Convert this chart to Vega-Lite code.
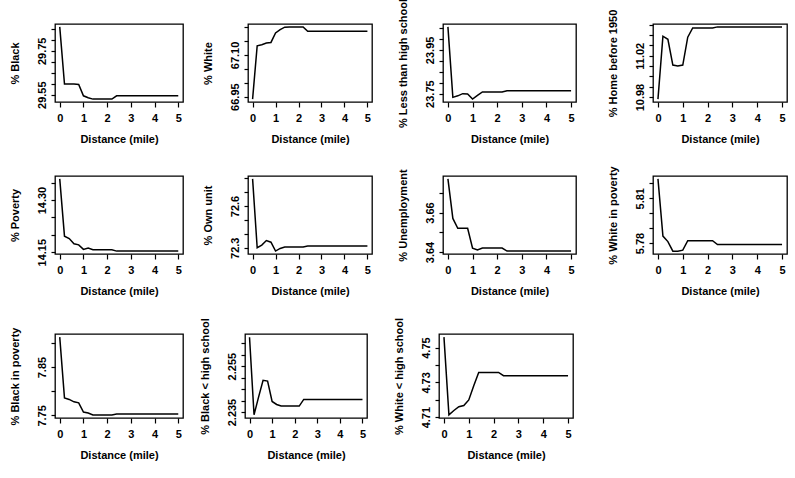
{
"$schema": "https://vega.github.io/schema/vega-lite/v6.json",
"background": "white",
"padding": {"left": 8, "top": -3, "right": 5, "bottom": 5},
"config": {
  "view": {"stroke": "black", "strokeWidth": 1.3},
  "axis": {"domain": false, "grid": false, "tickColor": "black", "tickWidth": 1.2, "labelFont": "Liberation Sans", "labelFontSize": 11, "labelFontWeight": "bold", "labelColor": "black", "titleFont": "Liberation Sans", "titleFontSize": 11, "titleFontWeight": "bold", "titleColor": "black", "labelFlush": false, "labelOverlap": false, "labelBound": false},
  "axisX": {"tickSize": 5, "labelPadding": 5, "titlePadding": 10},
  "axisY": {"tickSize": 4, "labelPadding": 4, "labelAngle": -90, "labelAlign": "center", "labelBaseline": "bottom", "titlePadding": 16}
},
"datasets": {
  "black": [{"distance":0,"value":29.859},{"distance":0.2,"value":29.599},{"distance":0.4,"value":29.599},{"distance":0.6,"value":29.599},{"distance":0.8,"value":29.597},{"distance":1.0,"value":29.545},{"distance":1.2,"value":29.536},{"distance":1.4,"value":29.530},{"distance":1.6,"value":29.530},{"distance":1.8,"value":29.530},{"distance":2.0,"value":29.530},{"distance":2.2,"value":29.530},{"distance":2.4,"value":29.545},{"distance":5,"value":29.545}],
  "white": [{"distance":0,"value":66.941},{"distance":0.2,"value":67.133},{"distance":0.4,"value":67.137},{"distance":0.6,"value":67.143},{"distance":0.8,"value":67.145},{"distance":1.0,"value":67.179},{"distance":1.2,"value":67.191},{"distance":1.4,"value":67.200},{"distance":1.6,"value":67.201},{"distance":1.8,"value":67.201},{"distance":2.0,"value":67.201},{"distance":2.2,"value":67.201},{"distance":2.4,"value":67.185},{"distance":5,"value":67.185}],
  "less": [{"distance":0,"value":24.055},{"distance":0.2,"value":23.733},{"distance":0.4,"value":23.740},{"distance":0.6,"value":23.750},{"distance":0.8,"value":23.748},{"distance":1.0,"value":23.725},{"distance":1.2,"value":23.742},{"distance":1.4,"value":23.758},{"distance":1.6,"value":23.758},{"distance":1.8,"value":23.758},{"distance":2.0,"value":23.758},{"distance":2.2,"value":23.758},{"distance":2.4,"value":23.763},{"distance":5,"value":23.763}],
  "home": [{"distance":0,"value":10.978},{"distance":0.2,"value":11.039},{"distance":0.4,"value":11.036},{"distance":0.6,"value":11.011},{"distance":0.8,"value":11.010},{"distance":1.0,"value":11.011},{"distance":1.2,"value":11.038},{"distance":1.4,"value":11.047},{"distance":1.6,"value":11.047},{"distance":1.8,"value":11.047},{"distance":2.0,"value":11.047},{"distance":2.2,"value":11.047},{"distance":2.4,"value":11.048},{"distance":5,"value":11.048}],
  "poverty": [{"distance":0,"value":14.361},{"distance":0.2,"value":14.196},{"distance":0.4,"value":14.189},{"distance":0.6,"value":14.174},{"distance":0.8,"value":14.171},{"distance":1.0,"value":14.158},{"distance":1.2,"value":14.162},{"distance":1.4,"value":14.157},{"distance":1.6,"value":14.157},{"distance":1.8,"value":14.157},{"distance":2.0,"value":14.157},{"distance":2.2,"value":14.157},{"distance":2.4,"value":14.153},{"distance":5,"value":14.153}],
  "own": [{"distance":0,"value":72.795},{"distance":0.2,"value":72.300},{"distance":0.4,"value":72.319},{"distance":0.6,"value":72.352},{"distance":0.8,"value":72.340},{"distance":1.0,"value":72.276},{"distance":1.2,"value":72.295},{"distance":1.4,"value":72.305},{"distance":1.6,"value":72.305},{"distance":1.8,"value":72.305},{"distance":2.0,"value":72.305},{"distance":2.2,"value":72.305},{"distance":2.4,"value":72.312},{"distance":5,"value":72.312}],
  "unemp": [{"distance":0,"value":3.677},{"distance":0.2,"value":3.657},{"distance":0.4,"value":3.652},{"distance":0.6,"value":3.652},{"distance":0.8,"value":3.652},{"distance":1.0,"value":3.642},{"distance":1.2,"value":3.641},{"distance":1.4,"value":3.642},{"distance":1.6,"value":3.642},{"distance":1.8,"value":3.642},{"distance":2.0,"value":3.642},{"distance":2.2,"value":3.642},{"distance":2.4,"value":3.6405},{"distance":5,"value":3.6405}],
  "wpov": [{"distance":0,"value":5.823},{"distance":0.2,"value":5.7847},{"distance":0.4,"value":5.781},{"distance":0.6,"value":5.7746},{"distance":0.8,"value":5.7746},{"distance":1.0,"value":5.7753},{"distance":1.2,"value":5.7816},{"distance":1.4,"value":5.7816},{"distance":1.6,"value":5.7816},{"distance":1.8,"value":5.7816},{"distance":2.0,"value":5.7816},{"distance":2.2,"value":5.7816},{"distance":2.4,"value":5.779},{"distance":5,"value":5.779}],
  "bpov": [{"distance":0,"value":7.912},{"distance":0.2,"value":7.786},{"distance":0.4,"value":7.783},{"distance":0.6,"value":7.778},{"distance":0.8,"value":7.776},{"distance":1.0,"value":7.757},{"distance":1.2,"value":7.755},{"distance":1.4,"value":7.751},{"distance":1.6,"value":7.751},{"distance":1.8,"value":7.751},{"distance":2.0,"value":7.751},{"distance":2.2,"value":7.751},{"distance":2.4,"value":7.753},{"distance":5,"value":7.753}],
  "bhs": [{"distance":0,"value":2.2676},{"distance":0.2,"value":2.2338},{"distance":0.4,"value":2.2415},{"distance":0.6,"value":2.2488},{"distance":0.8,"value":2.2485},{"distance":1.0,"value":2.2396},{"distance":1.2,"value":2.2383},{"distance":1.4,"value":2.2376},{"distance":1.6,"value":2.2376},{"distance":1.8,"value":2.2376},{"distance":2.0,"value":2.2376},{"distance":2.2,"value":2.2376},{"distance":2.4,"value":2.2405},{"distance":5,"value":2.2405}],
  "whs": [{"distance":0,"value":4.756},{"distance":0.2,"value":4.7113},{"distance":0.4,"value":4.7138},{"distance":0.6,"value":4.716},{"distance":0.8,"value":4.7167},{"distance":1.0,"value":4.7199},{"distance":1.2,"value":4.7281},{"distance":1.4,"value":4.7357},{"distance":1.6,"value":4.7357},{"distance":1.8,"value":4.7357},{"distance":2.0,"value":4.7357},{"distance":2.2,"value":4.7357},{"distance":2.4,"value":4.7338},{"distance":5,"value":4.7338}]
},
"vconcat": [
  {"hconcat": [
    {"width": 128, "height": 78, "data": {"name": "black"}, "mark": {"type": "line", "color": "black", "strokeWidth": 1.5},
     "encoding": {"x": {"field": "distance", "type": "quantitative", "scale": {"domain": [-0.2, 5.2], "nice": false}, "axis": {"title": "Distance (mile)", "values": [0,1,2,3,4,5]}},
       "y": {"field": "value", "type": "quantitative", "scale": {"domain": [29.5168, 29.8722], "nice": false, "zero": false}, "axis": {"title": "% Black", "values": [29.55,29.6,29.65,29.7,29.75,29.8,29.85], "format": ".2f", "labelExpr": "indexof(['29.55','29.75'], datum.label) >= 0 ? datum.label : ''"}}}},
    {"hconcat": [
      {"width": 124, "height": 78, "data": {"name": "white"}, "mark": {"type": "line", "color": "black", "strokeWidth": 1.5},
       "encoding": {"x": {"field": "distance", "type": "quantitative", "scale": {"domain": [-0.2, 5.2], "nice": false}, "axis": {"title": "Distance (mile)", "values": [0,1,2,3,4,5]}},
         "y": {"field": "value", "type": "quantitative", "scale": {"domain": [66.9306, 67.2114], "nice": false, "zero": false}, "axis": {"title": "% White", "values": [66.95,67.0,67.05,67.1,67.15,67.2], "format": ".2f", "labelExpr": "indexof(['66.95','67.10'], datum.label) >= 0 ? datum.label : ''"}}}},
      {"hconcat": [
        {"width": 133, "height": 78, "data": {"name": "less"}, "mark": {"type": "line", "color": "black", "strokeWidth": 1.5},
         "encoding": {"x": {"field": "distance", "type": "quantitative", "scale": {"domain": [-0.2, 5.2], "nice": false}, "axis": {"title": "Distance (mile)", "values": [0,1,2,3,4,5]}},
           "y": {"field": "value", "type": "quantitative", "scale": {"domain": [23.7118, 24.0682], "nice": false, "zero": false}, "axis": {"title": "% Less than high school", "values": [23.75,23.8,23.85,23.9,23.95,24.0,24.05], "format": ".2f", "labelExpr": "indexof(['23.75','23.95'], datum.label) >= 0 ? datum.label : ''"}}}},
        {"width": 134, "height": 78, "data": {"name": "home"}, "mark": {"type": "line", "color": "black", "strokeWidth": 1.5},
         "encoding": {"x": {"field": "distance", "type": "quantitative", "scale": {"domain": [-0.2, 5.2], "nice": false}, "axis": {"title": "Distance (mile)", "values": [0,1,2,3,4,5]}},
           "y": {"field": "value", "type": "quantitative", "scale": {"domain": [10.9752, 11.0508], "nice": false, "zero": false}, "axis": {"title": "% Home before 1950", "values": [10.98,10.99,11.0,11.01,11.02,11.03,11.04,11.05], "format": ".2f", "labelExpr": "indexof(['10.98','11.02'], datum.label) >= 0 ? datum.label : ''"}}}}
      ], "spacing": 77, "bounds": "flush"}
    ], "spacing": 71, "bounds": "flush"}
  ], "spacing": 65, "bounds": "flush"},
  {"vconcat": [
    {"hconcat": [
      {"width": 128, "height": 78, "data": {"name": "poverty"}, "mark": {"type": "line", "color": "black", "strokeWidth": 1.5},
       "encoding": {"x": {"field": "distance", "type": "quantitative", "scale": {"domain": [-0.2, 5.2], "nice": false}, "axis": {"title": "Distance (mile)", "values": [0,1,2,3,4,5]}},
         "y": {"field": "value", "type": "quantitative", "scale": {"domain": [14.1447, 14.3693], "nice": false, "zero": false}, "axis": {"title": "% Poverty", "values": [14.15,14.2,14.25,14.3,14.35], "format": ".2f", "labelExpr": "indexof(['14.15','14.30'], datum.label) >= 0 ? datum.label : ''"}}}},
      {"hconcat": [
        {"width": 124, "height": 78, "data": {"name": "own"}, "mark": {"type": "line", "color": "black", "strokeWidth": 1.5},
         "encoding": {"x": {"field": "distance", "type": "quantitative", "scale": {"domain": [-0.2, 5.2], "nice": false}, "axis": {"title": "Distance (mile)", "values": [0,1,2,3,4,5]}},
           "y": {"field": "value", "type": "quantitative", "scale": {"domain": [72.255, 72.816], "nice": false, "zero": false}, "axis": {"title": "% Own unit", "values": [72.3,72.4,72.5,72.6,72.7,72.8], "format": ".1f", "labelExpr": "indexof(['72.3','72.6'], datum.label) >= 0 ? datum.label : ''"}}}},
        {"hconcat": [
          {"width": 133, "height": 78, "data": {"name": "unemp"}, "mark": {"type": "line", "color": "black", "strokeWidth": 1.5},
           "encoding": {"x": {"field": "distance", "type": "quantitative", "scale": {"domain": [-0.2, 5.2], "nice": false}, "axis": {"title": "Distance (mile)", "values": [0,1,2,3,4,5]}},
             "y": {"field": "value", "type": "quantitative", "scale": {"domain": [3.639, 3.6785], "nice": false, "zero": false}, "axis": {"title": "% Unemployment", "values": [3.64,3.65,3.66,3.67], "format": ".2f", "labelExpr": "indexof(['3.64','3.66'], datum.label) >= 0 ? datum.label : ''"}}}},
          {"width": 134, "height": 78, "data": {"name": "wpov"}, "mark": {"type": "line", "color": "black", "strokeWidth": 1.5},
           "encoding": {"x": {"field": "distance", "type": "quantitative", "scale": {"domain": [-0.2, 5.2], "nice": false}, "axis": {"title": "Distance (mile)", "values": [0,1,2,3,4,5]}},
             "y": {"field": "value", "type": "quantitative", "scale": {"domain": [5.7727, 5.8249], "nice": false, "zero": false}, "axis": {"title": "% White in poverty", "values": [5.78,5.79,5.8,5.81,5.82], "format": ".2f", "labelExpr": "indexof(['5.78','5.81'], datum.label) >= 0 ? datum.label : ''"}}}}
        ], "spacing": 77, "bounds": "flush"}
      ], "spacing": 71, "bounds": "flush"}
    ], "spacing": 65, "bounds": "flush"},
    {"hconcat": [
      {"width": 128, "height": 84, "data": {"name": "bpov"}, "mark": {"type": "line", "color": "black", "strokeWidth": 1.5},
       "encoding": {"x": {"field": "distance", "type": "quantitative", "scale": {"domain": [-0.2, 5.2], "nice": false}, "axis": {"title": "Distance (mile)", "values": [0,1,2,3,4,5]}},
         "y": {"field": "value", "type": "quantitative", "scale": {"domain": [7.7446, 7.9184], "nice": false, "zero": false}, "axis": {"title": "% Black in poverty", "values": [7.75,7.8,7.85,7.9], "format": ".2f", "labelExpr": "indexof(['7.75','7.85'], datum.label) >= 0 ? datum.label : ''"}}}},
      {"hconcat": [
        {"width": 122, "height": 84, "data": {"name": "bhs"}, "mark": {"type": "line", "color": "black", "strokeWidth": 1.5},
         "encoding": {"x": {"field": "distance", "type": "quantitative", "scale": {"domain": [-0.2, 5.2], "nice": false}, "axis": {"title": "Distance (mile)", "values": [0,1,2,3,4,5]}},
           "y": {"field": "value", "type": "quantitative", "scale": {"domain": [2.2324, 2.269], "nice": false, "zero": false}, "axis": {"title": "% Black < high school", "values": [2.235,2.24,2.245,2.25,2.255,2.26,2.265], "format": ".3f", "labelExpr": "indexof(['2.235','2.255'], datum.label) >= 0 ? datum.label : ''"}}}},
        {"width": 134, "height": 84, "data": {"name": "whs"}, "mark": {"type": "line", "color": "black", "strokeWidth": 1.5},
         "encoding": {"x": {"field": "distance", "type": "quantitative", "scale": {"domain": [-0.2, 5.2], "nice": false}, "axis": {"title": "Distance (mile)", "values": [0,1,2,3,4,5]}},
           "y": {"field": "value", "type": "quantitative", "scale": {"domain": [4.7095, 4.7578], "nice": false, "zero": false}, "axis": {"title": "% White < high school", "values": [4.71,4.72,4.73,4.74,4.75], "format": ".2f", "labelExpr": "indexof(['4.71','4.73','4.75'], datum.label) >= 0 ? datum.label : ''"}}}}
      ], "spacing": 72, "bounds": "flush"}
    ], "spacing": 62, "bounds": "flush"}
  ], "spacing": 158, "bounds": "flush"}
],
"spacing": 152,
"bounds": "flush"
}
